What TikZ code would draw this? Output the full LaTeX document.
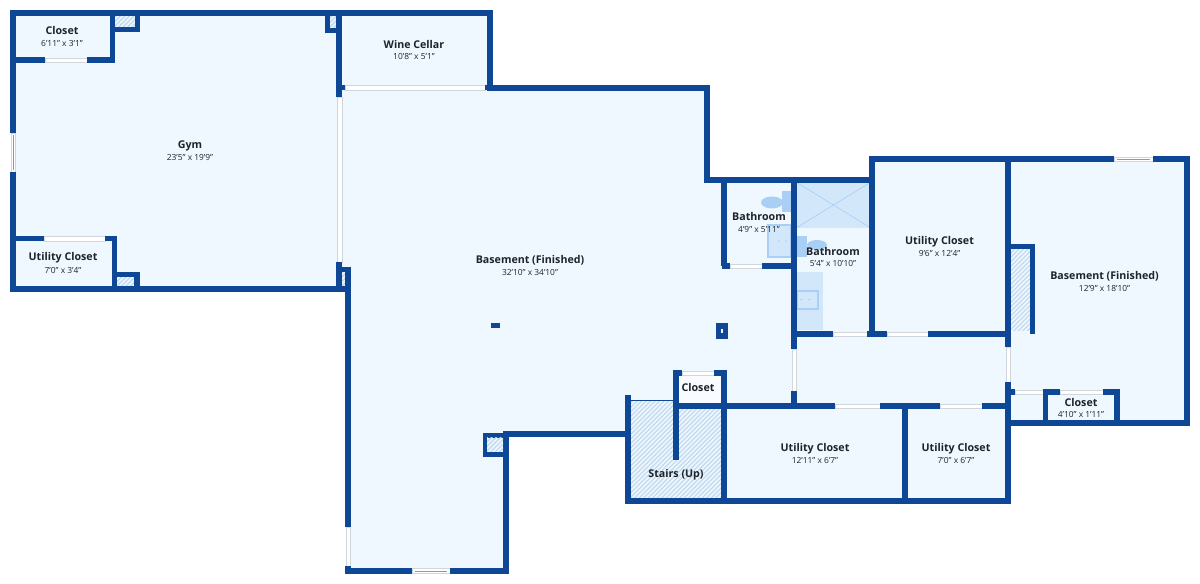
\documentclass[tikz,border=0pt]{standalone}
\usepackage{fontspec}
\setmainfont{Open Sans}
\definecolor{wallc}{HTML}{0D4796}
\definecolor{floorc}{HTML}{F0F8FF}
\definecolor{hatchbg}{HTML}{EDF6FD}
\definecolor{hatchln}{HTML}{BFD8EE}
\definecolor{fixt}{HTML}{D3E7FB}
\definecolor{fixtd}{HTML}{A9CFF5}
\definecolor{doorln}{HTML}{CFD6DC}
\definecolor{winln}{HTML}{8F9AA6}
\definecolor{txt}{HTML}{1E232B}
\newcommand{\hatchbox}[4]{%
  \begin{scope}
    \fill[hatchbg] (#1,#2) rectangle (#3,#4);
    \clip (#1,#2) rectangle (#3,#4);
    \foreach \k in {0,4.5,...,200} \draw[hatchln,line width=0.8pt] ({#1-100+\k},#4) -- ++(100,-100);
  \end{scope}}
\newcommand{\opening}[4]{\draw[fill=white,draw=doorln,line width=0.45pt] (#1,#2) rectangle (#3,#4);}
\begin{document}
\begin{tikzpicture}[x=0.75pt,y=-0.75pt,
  wall/.style={draw=wallc,line width=3.95pt,line cap=butt,line join=miter},
  title/.style={font=\fontsize{8}{9}\selectfont\bfseries,text=txt,inner sep=0pt,yshift=-0.75pt},
  dims/.style={font=\fontsize{6.3}{7}\selectfont,text=txt,inner sep=0pt,yshift=-0.5pt},
  fixture/.style={fill=fixt,draw=none},
  basin/.style={fill=fixt,draw=fixtd,line width=1.6pt},
  dark/.style={fill=fixtd,draw=none}]
\useasboundingbox (0,0) rectangle (1200,584);
\fill[white] (0,0) rectangle (1200,584);
% floor
\fill[floorc] (13,13) -- (490,13) -- (490,88) -- (707,88) -- (707,180) -- (872,180) -- (872,159) -- (1187,159) -- (1187,423) -- (1008,423) -- (1008,501) -- (628,501) -- (628,434) -- (506,434) -- (506,571) -- (348,571) -- (348,289) -- (13,289) -- cycle;
% fixtures
\fill[fixture] (796,182) rectangle (871,228);
\draw[fixtd,line width=0.5pt] (796,182) -- (871,228) (796,228) -- (871,182);
\fill[dark] (782,191) rectangle (792,212);
\fill[dark] (772,202.5) ellipse [x radius=11,y radius=6];
\filldraw[basin] (768,225) rectangle (791,257);
\fill[dark] (797,236) rectangle (807,257);
\fill[dark] (817,245) ellipse [x radius=10,y radius=5];
\fill[fixture] (796,272) rectangle (823,330);
\filldraw[basin] (797,291) rectangle (818,309);
\fill[fixtd] (779,241) circle (0.8) (786,241) circle (0.8) (801,299.5) circle (0.8) (809,299.5) circle (0.8);
% hatched chases and stairs
\hatchbox{115}{15}{135}{27}
\hatchbox{330}{15}{337}{28}
\hatchbox{117}{277}{134}{287}
\hatchbox{342}{270}{346}{287}
\hatchbox{1010}{249}{1030}{331}
\hatchbox{630}{402}{722}{499}
\draw[wallc,line width=0.6pt] (628,400) -- (676,400);
\fill[white!50!floorc] (678,376) rectangle (722,404);
% doors and windows
\opening{11}{133}{15}{172}
\draw[winln,line width=0.45pt] (13,135) -- (13,170);
\opening{45}{58}{87}{62}
\opening{44}{236}{105}{241}
\opening{337}{97}{342}{262}
\opening{345}{85}{485}{90}
\opening{346}{527}{350}{566}
\opening{412}{568.5}{450}{573.5}
\draw[winln,line width=0.45pt] (415,571) -- (447,571);
\opening{730}{264}{762}{268}
\opening{792}{349}{796}{391}
\opening{682}{371}{714}{375}
\opening{833}{332}{867}{336}
\opening{887}{332}{928}{336}
\opening{835}{404}{880}{408}
\opening{940}{404}{982}{408}
\opening{1006}{347}{1010}{382}
\opening{1015}{390}{1043}{394}
\opening{1060}{390}{1103}{394}
\opening{1114}{157}{1153}{161}
\draw[winln,line width=0.45pt] (1117,159) -- (1150,159);
% outer walls
\draw[wall] (13,133) -- (13,13) -- (490,13) -- (490,88) -- (707,88) -- (707,180) -- (872,180) -- (872,159) -- (1114,159);
\draw[wall] (1153,159) -- (1187,159) -- (1187,423) -- (1005,423);
\draw[wall] (13,172) -- (13,289) -- (345,289);
\draw[wall] (339,10.5) -- (339,97);
\draw[wall] (339,262) -- (339,291);
\draw[wall] (337,269.5) -- (348,269.5) -- (348,527);
\draw[wall] (348,566) -- (348,573.5);
\draw[wall] (345.5,571) -- (412,571);
\draw[wall] (450,571) -- (506,571) -- (506,434) -- (628,434);
\draw[wall] (628,395) -- (628,501) -- (1008,501) -- (1008,382);
\draw[wall] (1008,347) -- (1008,159);
% gym closets
\draw[wall] (13,60) -- (45,60);
\draw[wall] (87,60) -- (112.5,60) -- (112.5,13);
\draw[wall] (112.5,29.5) -- (137.5,29.5) -- (137.5,13);
\draw[wall] (327.5,13) -- (327.5,30.5) -- (339,30.5);
\draw[wall] (13,238.5) -- (44,238.5);
\draw[wall] (105,238.5) -- (114.5,238.5) -- (114.5,289);
\draw[wall] (114.5,274.5) -- (137,274.5) -- (137,289);
% wine cellar door stubs
\draw[wall] (339,87.5) -- (345,87.5);
\draw[wall] (485,87.5) -- (490,87.5);
% chase by lower basement
\fill[wallc] (483,433) rectangle (506,457);
\hatchbox{487}{438}{503}{452}
% bathrooms
\draw[wall] (724,180) -- (724,266);
\draw[wall] (722,266) -- (730,266);
\draw[wall] (762,266) -- (796,266);
\draw[wall] (794,180) -- (794,349);
\draw[wall] (794,391) -- (794,406);
\draw[wall] (792,334) -- (833,334);
\draw[wall] (867,334) -- (887,334);
\draw[wall] (928,334) -- (1008,334);
\draw[wall] (872,159) -- (872,334);
% lower rooms
\draw[wall] (676,370.5) -- (676,460);
\draw[wall] (724,370.5) -- (724,501);
\draw[wall] (673.5,373) -- (682,373);
\draw[wall] (714,373) -- (726.5,373);
\draw[wall] (676,406) -- (835,406);
\draw[wall] (880,406) -- (940,406);
\draw[wall] (982,406) -- (1008,406);
\draw[wall] (905,406) -- (905,501);
% right chase and closet
\draw[wall] (1008,246.5) -- (1032.5,246.5) -- (1032.5,334);
\draw[wall] (1008,392) -- (1015,392);
\draw[wall] (1043,392) -- (1060,392);
\draw[wall] (1103,392) -- (1119.5,392);
\draw[wall] (1045.5,390) -- (1045.5,423);
\draw[wall] (1117,390) -- (1117,423);
% columns
\fill[wallc] (491,323.5) rectangle (500,328.5);
\fill[wallc] (716,323) rectangle (728,339);
\fill[floorc] (721,329) rectangle (723,333);
% labels
\node[title] (t1) at (62,30) {Closet};
\node[dims] (d1) at (62,42.5) {6'11'' x 3'1''};
\node[title] (t2) at (190,145) {Gym};
\node[dims] (d2) at (190,157) {23'5'' x 19'9''};
\node[title] (t3) at (63,257) {Utility Closet};
\node[dims] (d3) at (63,270) {7'0'' x 3'4''};
\node[title] (t4) at (414,44) {Wine Cellar};
\node[dims] (d4) at (414,56) {10'8'' x 5'1''};
\node[title] (t5) at (530,259.5) {Basement (Finished)};
\node[dims] (d5) at (530,272) {32'10'' x 34'10''};
\node[title] (t6) at (759,216) {Bathroom};
\node[dims] (d6) at (759,229) {4'9'' x 5'11''};
\node[title] (t7) at (833,251) {Bathroom};
\node[dims] (d7) at (833,263) {5'4'' x 10'10''};
\node[title] (t8) at (939.5,240.5) {Utility Closet};
\node[dims] (d8) at (939.5,253) {9'6'' x 12'4''};
\node[title] (t9) at (1104.5,275) {Basement (Finished)};
\node[dims] (d9) at (1104.5,287.5) {12'9'' x 18'10''};
\node[title] (t10) at (698,387) {Closet};
\node[title] (t11) at (1081,402) {Closet};
\node[dims] (d11) at (1081,414) {4'10'' x 1'11''};
\node[title] (t12) at (676,473.5) {Stairs (Up)};
\node[title] (t13) at (815,447.5) {Utility Closet};
\node[dims] (d13) at (815,460) {12'11'' x 6'7''};
\node[title] (t14) at (956,447.5) {Utility Closet};
\node[dims] (d14) at (956,460) {7'0'' x 6'7''};
\end{tikzpicture}
\end{document}
